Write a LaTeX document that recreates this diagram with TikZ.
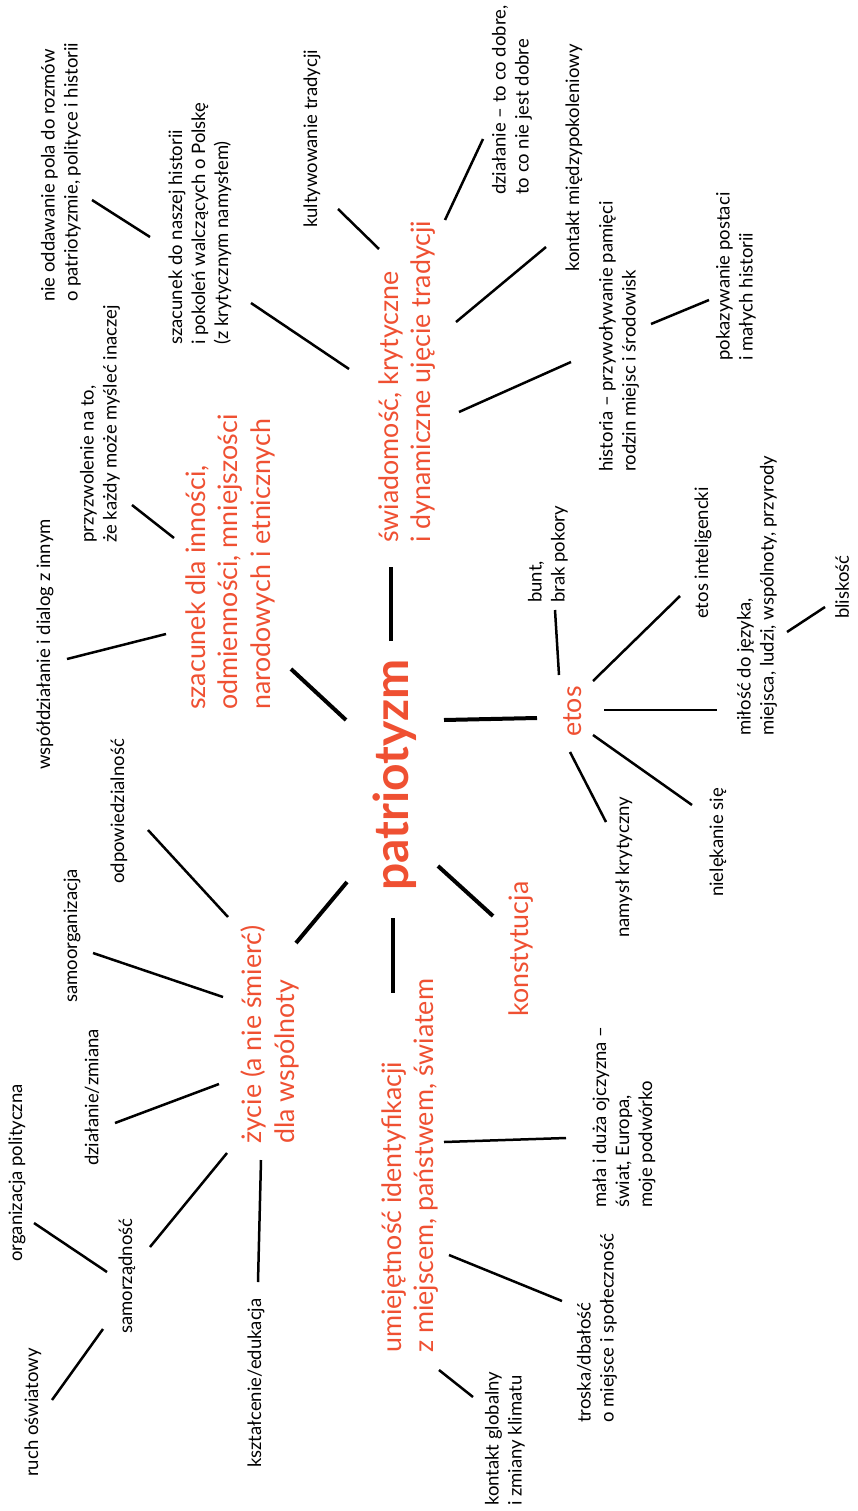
\documentclass[tikz,border=0pt]{standalone}
\usepackage{fontspec}
\setmainfont{Lato}
\definecolor{patorange}{RGB}{239,80,50}
\tikzset{
  leaf/.style={rotate=90, anchor=west, align=left, inner sep=0pt,
    font=\fontsize{18.5}{23}\selectfont},
  branch/.style={leaf, text=patorange, font=\fontsize{26.8}{32.5}\selectfont},
  hub/.style={rotate=90, inner sep=0pt, text=patorange,
    font=\bfseries\fontsize{48}{52}\selectfont},
  twig/.style={line width=2.5pt},
  limb/.style={line width=4pt},
}
\begin{document}
\begin{tikzpicture}[x=1pt, y=-1pt]

    % Page
    \fill[white] (0,0) rectangle (858,1511);
    \useasboundingbox (0,0) rectangle (858,1511);

    % Central node
    \node[hub] (patr) at (395,775) {patriotyzm};

    % Main branches
    \node[branch] (szdla) at (230,710) {szacunek dla inności,\\odmienności, mniejszości\\narodowych i etnicznych};
    \node[branch] (swiad) at (407,543) {świadomość, krytyczne\\i dynamiczne ujęcie tradycji};
    \node[branch] (etos) at (573,737) {etos};
    \node[branch] (konst) at (521,1017) {konstytucja};
    \node[branch] (zycie) at (270,1144) {życie (a nie śmierć)\\dla wspólnoty};
    \node[branch] (umiej) at (410,1353) {umiejętność identyfikacji\\z miejscem, państwem, światem};

    % Leaves of swiad
    \node[leaf] (nieodd) at (61,302) {nie oddawanie pola do rozmów\\o patriotyzmie, polityce i historii};
    \node[leaf] (szhist) at (200,345) {szacunek do naszej historii\\i pokoleń walczących o Polskę\\(z krytycznym namysłem)};
    \node[leaf] (kult) at (312,228) {kultywowanie tradycji};
    \node[leaf] (dzial) at (512,195) {działanie – to co dobre,\\to co nie jest dobre};
    \node[leaf] (kontakt) at (574,272) {kontakt międzypokoleniowy};
    \node[leaf] (hist) at (619,472) {historia – przywoływanie pamięci\\rodzin miejsc i środowisk};
    \node[leaf] (pokaz) at (736,361) {pokazywanie postaci\\i małych historii};

    % Leaves of szdla
    \node[leaf] (przyzw) at (100,543) {przyzwolenie na to,\\że każdy może myśleć inaczej};
    \node[leaf] (wspol) at (45,770) {współdziałanie i dialog z innym};

    % Leaves of etos
    \node[leaf] (bunt) at (548,603) {bunt,\\brak pokory};
    \node[leaf] (intel) at (703,619) {etos inteligencki};
    \node[leaf] (milosc) at (757,736) {miłość do języka,\\miejsca, ludzi, wspólnoty, przyrody};
    \node[leaf] (blisk) at (842,619) {bliskość};
    \node[leaf] (niel) at (718,897) {nielękanie się};
    \node[leaf] (namysl) at (624,938) {namysł krytyczny};

    % Leaves of zycie
    \node[leaf] (odpow) at (119,884) {odpowiedzialność};
    \node[leaf] (samoorg) at (72,1003) {samoorganizacja};
    \node[leaf] (dzialz) at (92,1166) {działanie/zmiana};
    \node[leaf] (orgpol) at (17,1262) {organizacja polityczna};
    \node[leaf] (samorz) at (127,1334) {samorządność};
    \node[leaf] (ruch) at (33,1477) {ruch oświatowy};
    \node[leaf] (kszt) at (256,1468) {kształcenie/edukacja};

    % Leaves of umiej
    \node[leaf] (mala) at (624,1208) {mała i duża ojczyzna –\\świat, Europa,\\moje podwórko};
    \node[leaf] (troska) at (597,1423) {troska/dbałość\\o miejsce i społeczność};
    \node[leaf] (glob) at (505,1506) {kontakt globalny\\i zmiany klimatu};

    % Ends of thick connectors
    \coordinate (s-patr-szdla) at (346,720);  \coordinate (t-patr-szdla) at (291,669);
    \coordinate (s-patr-swiad) at (391,641);  \coordinate (t-patr-swiad) at (391,567);
    \coordinate (s-patr-zycie) at (347,882);  \coordinate (t-patr-zycie) at (296,943);
    \coordinate (s-patr-umiej) at (393,918);  \coordinate (t-patr-umiej) at (393,993);
    \coordinate (s-patr-konst) at (438,866);  \coordinate (t-patr-konst) at (493,916);
    \coordinate (s-patr-etos) at (444,720);   \coordinate (t-patr-etos) at (537,718);

    % Ends of thin connectors
    \coordinate (s-swiad-szhist) at (349,369);  \coordinate (t-swiad-szhist) at (251,303);
    \coordinate (s-szhist-nieodd) at (150,237); \coordinate (t-szhist-nieodd) at (92,200);
    \coordinate (s-swiad-kult) at (379,249);    \coordinate (t-swiad-kult) at (338,209);
    \coordinate (s-swiad-dzial) at (445,220);   \coordinate (t-swiad-dzial) at (483,139);
    \coordinate (s-swiad-kontakt) at (456,322); \coordinate (t-swiad-kontakt) at (546,247);
    \coordinate (s-swiad-hist) at (459,412);    \coordinate (t-swiad-hist) at (571,362);
    \coordinate (s-hist-pokaz) at (651,324);    \coordinate (t-hist-pokaz) at (709,300);
    \coordinate (s-szdla-przyzw) at (174,538);  \coordinate (t-szdla-przyzw) at (132,505);
    \coordinate (s-szdla-wspol) at (166,634);   \coordinate (t-szdla-wspol) at (67,659);
    \coordinate (s-etos-bunt) at (559,675);     \coordinate (t-etos-bunt) at (555,610);
    \coordinate (s-etos-intel) at (593,681);    \coordinate (t-etos-intel) at (680,596);
    \coordinate (s-etos-milosc) at (604,710);   \coordinate (t-etos-milosc) at (717,710);
    \coordinate (s-etos-niel) at (593,735);     \coordinate (t-etos-niel) at (692,805);
    \coordinate (s-etos-namysl) at (570,752);   \coordinate (t-etos-namysl) at (606,822);
    \coordinate (s-milosc-blisk) at (787,632);  \coordinate (t-milosc-blisk) at (825,607);
    \coordinate (s-zycie-odpow) at (228,917);   \coordinate (t-zycie-odpow) at (148,830);
    \coordinate (s-zycie-samoorg) at (223,997); \coordinate (t-zycie-samoorg) at (93,953);
    \coordinate (s-zycie-dzialz) at (219,1084); \coordinate (t-zycie-dzialz) at (115,1123);
    \coordinate (s-zycie-samorz) at (227,1153); \coordinate (t-zycie-samorz) at (150,1247);
    \coordinate (s-zycie-kszt) at (261,1160);   \coordinate (t-zycie-kszt) at (258,1282);
    \coordinate (s-samorz-orgpol) at (107,1272); \coordinate (t-samorz-orgpol) at (34,1223);
    \coordinate (s-samorz-ruch) at (103,1329);  \coordinate (t-samorz-ruch) at (52,1400);
    \coordinate (s-umiej-mala) at (444,1142);   \coordinate (t-umiej-mala) at (566,1138);
    \coordinate (s-umiej-troska) at (449,1255); \coordinate (t-umiej-troska) at (562,1301);
    \coordinate (s-umiej-glob) at (439,1370);   \coordinate (t-umiej-glob) at (473,1397);

    % Connect centre to main branches
    \foreach \c in {patr-szdla, patr-swiad, patr-zycie, patr-umiej, patr-konst, patr-etos}
        \draw[limb] (s-\c) -- (t-\c);

    % Connect branches to leaves
    \foreach \c in {swiad-szhist, szhist-nieodd, swiad-kult, swiad-dzial, swiad-kontakt,
        swiad-hist, hist-pokaz, szdla-przyzw, szdla-wspol, etos-bunt, etos-intel,
        etos-milosc, etos-niel, etos-namysl, milosc-blisk, zycie-odpow, zycie-samoorg,
        zycie-dzialz, zycie-samorz, zycie-kszt, samorz-orgpol, samorz-ruch,
        umiej-mala, umiej-troska, umiej-glob}
        \draw[twig] (s-\c) -- (t-\c);

\end{tikzpicture}
\end{document}
